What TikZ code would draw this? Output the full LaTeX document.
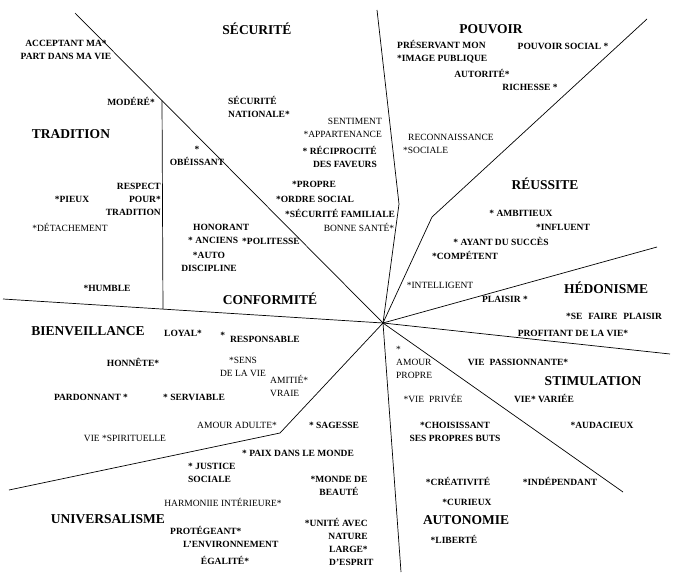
\documentclass[tikz,border=0pt]{standalone}
\usepackage{fontspec}
\setmainfont{Liberation Serif}
\usetikzlibrary{calc}

\begin{document}
\begin{tikzpicture}
[x=1pt, y=-1pt,
  typ/.style={font=\fontsize{13.5}{15}\selectfont\bfseries, inner sep=0pt},
  vb/.style={font=\fontsize{9.5}{13}\selectfont\bfseries, align=center, inner sep=0pt},
  vr/.style={font=\fontsize{9.5}{13}\selectfont, align=center, inner sep=0pt},
  sep/.style={line width=.7pt}]
  \fill[white] (0,0) rectangle (690,586);
  \useasboundingbox (0,0) rectangle (690,586);
  % centre and end points of the dividing lines
  \coordinate (c) at (383,323);
  \coordinate (tl) at (75,13);
  \coordinate (l) at (3,299);
  \coordinate (vtop) at ($(tl)!0.2825!(c)$);
  \coordinate (vbot) at ($(l)!0.421!(c)$);
  \coordinate (t) at (377,10);
  \coordinate (tb) at (399,204);
  \coordinate (tr) at (647,19);
  \coordinate (trb) at (432,217);
  \coordinate (r1) at (657,247);
  \coordinate (r2) at (670,354);
  \coordinate (br) at (623,492);
  \coordinate (b) at (401,572);
  \coordinate (bl) at (9,490);
  \coordinate (blb) at (280,433);
  \foreach \e in {tl,l,r1,r2,br,b}
    \draw[sep] (c) -- (\e);
  \draw[sep] (vtop) -- (vbot);
  \draw[sep] (t) -- (tb) -- (c);
  \draw[sep] (tr) -- (trb) -- (c);
  \draw[sep] (bl) -- (blb) -- (c);
  % value types
  \node[typ] (securite) at (257,29) {SÉCURITÉ};
  \node[typ] (pouvoir) at (491,29) {POUVOIR};
  \node[typ] (tradition) at (71,134) {TRADITION};
  \node[typ] (reussite) at (545,184) {RÉUSSITE};
  \node[typ] (hedonisme) at (606,288) {HÉDONISME};
  \node[typ] (conformite) at (270,299) {CONFORMITÉ};
  \node[typ] (bienveillance) at (88,331) {BIENVEILLANCE};
  \node[typ] (stimulation) at (593,381) {STIMULATION};
  \node[typ] (universalisme) at (108,519) {UNIVERSALISME};
  \node[typ] (autonomie) at (466,520) {AUTONOMIE};
  % values
  \node[vb] (acceptant) at (66,50) {ACCEPTANT MA*\\PART DANS MA VIE};
  \node[vb] (modere) at (131,101) {MODÉRÉ*};
  \node[vb] (obeissant) at (197,156) {*\\OBÉISSANT};
  \node[vb, align=right, anchor=east] (respect) at (161,199) {RESPECT\\POUR*\\TRADITION};
  \node[vb] (pieux) at (72,199) {*PIEUX};
  \node[vr] (detachement) at (70,227) {*DÉTACHEMENT};
  \node[vb] (humble) at (107,288) {*HUMBLE};
  \node[vb, align=left, anchor=west] (nationale) at (228,107) {SÉCURITÉ\\NATIONALE*};
  \node[vr, align=right, anchor=east] (appartenance) at (382,128) {SENTIMENT\\*APPARTENANCE};
  \node[vb, align=right, anchor=east] (reciprocite) at (377,157) {* RÉCIPROCITÉ\\DES FAVEURS};
  \node[vb] (propre) at (314,184) {*PROPRE};
  \node[vb] (ordre) at (315,199) {*ORDRE SOCIAL};
  \node[vb] (famille) at (340,213) {*SÉCURITÉ FAMILIALE};
  \node[vr] (sante) at (359,227) {BONNE SANTÉ*};
  \node[vb, align=left, anchor=west] (honorant) at (188,234) {\hspace*{5pt}HONORANT\\* ANCIENS};
  \node[vb] (politesse) at (271,241) {*POLITESSE};
  \node[vb] (discipline) at (209,262) {*AUTO\\DISCIPLINE};
  \node[vb, align=left, anchor=west] (image) at (397,52) {PRÉSERVANT MON\\*IMAGE PUBLIQUE};
  \node[vb] (social) at (563,46) {POUVOIR SOCIAL *};
  \node[vb] (autorite) at (482,73) {AUTORITÉ*};
  \node[vb] (richesse) at (530,87) {RICHESSE *};
  \node[vr, align=left, anchor=west] (reconnaissance) at (403,144) {\hspace*{5pt}RECONNAISSANCE\\*SOCIALE};
  \node[vb] (ambitieux) at (521,213) {* AMBITIEUX};
  \node[vb] (influent) at (563,227) {*INFLUENT};
  \node[vb] (succes) at (501,241) {* AYANT DU SUCCÈS};
  \node[vb] (competent) at (465,255) {*COMPÉTENT};
  \node[vr] (intelligent) at (440,285) {*INTELLIGENT};
  \node[vb] (plaisir) at (505,299) {PLAISIR *};
  \node[vb] (faireplaisir) at (614,316) {*SE\hspace{6pt}FAIRE\hspace{6pt}PLAISIR};
  \node[vb] (profitant) at (573,333) {PROFITANT DE LA VIE*};
  \node[vr, align=left, anchor=west] (amourpropre) at (396,362) {*\\AMOUR\\PROPRE};
  \node[vb] (passion) at (518,362) {VIE\hspace{5pt}PASSIONNANTE*};
  \node[vr] (privee) at (433,398) {*VIE\hspace{5pt}PRIVÉE};
  \node[vb] (variee) at (544,398) {VIE* VARIÉE};
  \node[vb] (audacieux) at (602,425) {*AUDACIEUX};
  \node[vb] (buts) at (455,432) {*CHOISISSANT\\SES PROPRES BUTS};
  \node[vb] (creativite) at (458,481) {*CRÉATIVITÉ};
  \node[vb] (independant) at (560,481) {*INDÉPENDANT};
  \node[vb] (curieux) at (467,502) {*CURIEUX};
  \node[vb] (liberte) at (454,539) {*LIBERTÉ};
  \node[vb] (loyal) at (183,333) {LOYAL*};
  \node[vb] (responsable) at (260,337) {\raisebox{4pt}{*}\hspace{5pt}RESPONSABLE};
  \node[vb] (honnete) at (133,362) {HONNÊTE*};
  \node[vr] (sens) at (243,367) {*SENS\\DE LA VIE};
  \node[vr, align=left, anchor=west] (amitie) at (270,386) {AMITIÉ*\\VRAIE};
  \node[vb] (pardonnant) at (91,397) {PARDONNANT *};
  \node[vb] (serviable) at (194,397) {* SERVIABLE};
  \node[vr] (adulte) at (237,425) {AMOUR ADULTE*};
  \node[vb] (sagesse) at (334,425) {* SAGESSE};
  \node[vr] (spirituelle) at (125,438) {VIE *SPIRITUELLE};
  \node[vb] (paix) at (298,453) {* PAIX DANS LE MONDE};
  \node[vb, align=left, anchor=west] (justice) at (188,473) {* JUSTICE\\SOCIALE};
  \node[vb] (beaute) at (339,486) {*MONDE DE\\BEAUTÉ};
  \node[vr] (harmonie) at (223,502) {HARMONIIE INTÉRIEURE*};
  \node[vb, align=left, anchor=west] (environnement) at (170,537) {PROTÉGEANT*\\\hspace*{13pt}L'ENVIRONNEMENT};
  \node[vb] (egalite) at (225,560) {ÉGALITÉ*};
  \node[vb, align=right, anchor=east] (unite) at (368,529) {*UNITÉ AVEC\\NATURE};
  \node[vb, align=left, anchor=west] (esprit) at (329,556) {LARGE*\\D'ESPRIT};
\end{tikzpicture}
\end{document}
